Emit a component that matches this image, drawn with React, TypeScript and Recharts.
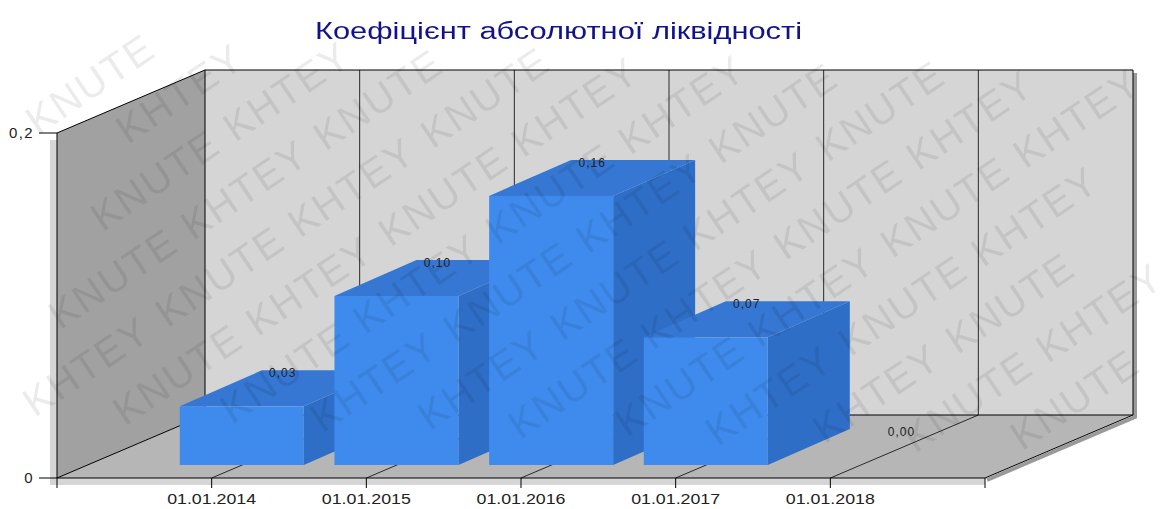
import React from "react";
import { Bar, BarChart, LabelList, XAxis, YAxis } from "recharts";

const categories = ["01.01.2014", "01.01.2015", "01.01.2016", "01.01.2017", "01.01.2018"];
const ratioValues = [0.034, 0.098, 0.156, 0.074, 0];
const yTicks = [0, 0.2];
const chartTitle = "Коефіцієнт абсолютної ліквідності";
const watermarkWords = ["KHTEY", "KNUTE"];

const data = categories.map((date, i) => ({ date, value: ratioValues[i] }));

const W = 1176;
const H = 509;
const PLOT = { left: 57, right: 985, top: 133, bottom: 478 };
const DEPTH = { x: 148, y: -63 };
const SLOTS = categories.length + 1;
const SLOT = (PLOT.right - PLOT.left) / SLOTS;
// bars sit a bit behind the front plane and are about half as deep as the box
const SHIFT = { x: 30, y: -13 };
const BAR_DEPTH = { x: 82, y: -36 };
const FONT = "'Liberation Sans', Arial, sans-serif";

const fmt = (v: number) => v.toFixed(2).replace(".", ",");

function Walls() {
  const { left, right, top, bottom } = PLOT;
  const bl = left + DEPTH.x;
  const br = right + DEPTH.x;
  const bt = top + DEPTH.y;
  const bb = bottom + DEPTH.y;
  const grid = Array.from({ length: SLOTS - 1 }, (_, i) => i + 1);
  return (
    <svg width={W} height={H} style={{ position: "absolute", left: 0, top: 0 }}>
      <rect x={left - 7} y={top + 7} width={7} height={bottom - top} fill="#d6d6d6" />
      <rect x={left - 7} y={bottom} width={right - left + 7} height={7} fill="#d6d6d6" />
      <polyline points={`${br + 2},${bt + 3} ${br + 2},${bb + 2} ${right + 2},${bottom + 2}`} fill="none" stroke="#9a9a9a" strokeWidth={4} />
      <polygon points={`${left},${top} ${bl},${bt} ${bl},${bb} ${left},${bottom}`} fill="#a1a1a1" />
      <rect x={bl} y={bt} width={br - bl} height={bb - bt} fill="#d5d5d5" />
      <polygon points={`${left},${bottom} ${bl},${bb} ${br},${bb} ${right},${bottom}`} fill="#b6b6b6" />
      {grid.map((k) => (
        <g key={k} stroke="#2a2a2a" strokeWidth={1}>
          <line x1={bl + k * SLOT} y1={bt} x2={bl + k * SLOT} y2={bb} />
          <line x1={left + k * SLOT} y1={bottom} x2={bl + k * SLOT} y2={bb} />
        </g>
      ))}
      <g stroke="#000" strokeWidth={1} fill="none">
        <polyline points={`${left},${top} ${bl},${bt} ${br},${bt} ${br},${bb} ${right},${bottom}`} />
        <line x1={bl} y1={bt} x2={bl} y2={bb} />
        <line x1={bl} y1={bb} x2={br} y2={bb} />
        <line x1={left} y1={bottom} x2={bl} y2={bb} />
        <line x1={left} y1={bottom} x2={left} y2={bottom + 10} />
        <line x1={right} y1={bottom} x2={right} y2={bottom + 10} />
      </g>
    </svg>
  );
}

function Box(props: any) {
  const { x, y, width, height } = props;
  if (!height || height <= 0) return null;
  const fx = x + SHIFT.x;
  const fy = y + SHIFT.y;
  const r = fx + width;
  const b = fy + height;
  return (
    <g>
      <polygon
        points={`${r},${fy} ${r + BAR_DEPTH.x},${fy + BAR_DEPTH.y} ${r + BAR_DEPTH.x},${b + BAR_DEPTH.y} ${r},${b}`}
        fill="#2f6ec7"
      />
      <polygon
        points={`${fx},${fy} ${fx + BAR_DEPTH.x},${fy + BAR_DEPTH.y} ${r + BAR_DEPTH.x},${fy + BAR_DEPTH.y} ${r},${fy}`}
        fill="#3577d3"
      />
      <rect x={fx} y={fy} width={width} height={height} fill="#3e8bed" />
    </g>
  );
}

function ValueLabel(props: any) {
  const vb = props.viewBox || props;
  const x = vb.x ?? props.x;
  const y = vb.y ?? props.y;
  const width = vb.width ?? props.width;
  const height = vb.height ?? props.height ?? 0;
  const topY = height < 0 ? y + height : y;
  return (
    <text
      x={x + SHIFT.x + width / 2 + BAR_DEPTH.x / 2}
      y={topY + SHIFT.y - 29}
      textAnchor="middle"
      fontSize={12}
      letterSpacing={1}
      fontFamily={FONT}
      fill="#222"
    >
      {fmt(Number(props.value))}
    </text>
  );
}

function DateTick(props: any) {
  const { x, y, payload } = props;
  return (
    <text x={x} y={y} dy="0.71em" textAnchor="middle" fontSize={15} fontFamily={FONT} fill="#222" textLength={89} lengthAdjust="spacingAndGlyphs">
      {payload.value}
    </text>
  );
}

// watermark words, kept only where the whole word fits inside the picture
function watermark() {
  const ang = (-34 * Math.PI) / 180;
  const c = Math.cos(ang);
  const s = Math.sin(ang);
  const cx = W / 2;
  const cy = H / 2;
  const wordW = 146;
  const out: { x: number; y: number; word: string }[] = [];
  for (let i = -12; i <= 12; i++) {
    for (let j = -8; j <= 8; j++) {
      const u = j * 160 + (i % 2 === 0 ? 0 : 90);
      const v = i * 58;
      const pts = [
        [u, v - 30],
        [u + wordW, v - 30],
        [u, v + 4],
        [u + wordW, v + 4],
      ].map(([a, b]) => [cx + a * c - b * s, cy + a * s + b * c]);
      if (pts.every(([px, py]) => px >= 1 && px <= W - 1 && py >= 1 && py <= H - 1)) {
        const word = watermarkWords[((j % 2) + 2) % 2];
        out.push({ x: cx + u * c - v * s, y: cy + u * s + v * c, word });
      }
    }
  }
  return out;
}

function Overlay() {
  const words = watermark();
  return (
    <svg width={W} height={H} style={{ position: "absolute", left: 0, top: 0, pointerEvents: "none" }}>
      <g opacity={0.08}>
        {words.map((w, i) => (
          <text key={i} transform={`translate(${w.x} ${w.y}) rotate(-34)`} fontSize={40} fontFamily={FONT} letterSpacing={2} fill="#000">
            {w.word}
          </text>
        ))}
      </g>
      <text x={315} y={39} fontSize={23} fontFamily={FONT} fill="#12128a" textLength={487} lengthAdjust="spacingAndGlyphs">
        {chartTitle}
      </text>
    </svg>
  );
}

export default function App() {
  const tickStyle = { fill: "#222", fontSize: 15, fontFamily: FONT, letterSpacing: 1.4 };
  return (
    <div style={{ position: "absolute", left: 0, top: 0, width: W, height: H, background: "#fff" }}>
      <Walls />
      <div style={{ position: "absolute", left: 0, top: 0 }}>
        <BarChart
          width={W}
          height={H}
          data={data}
          margin={{ top: PLOT.top, right: W - PLOT.right, bottom: H - PLOT.bottom - 30, left: PLOT.left - 50 }}
          barCategoryGap="10%"
        >
          <XAxis
            dataKey="date"
            height={30}
            interval={0}
            padding={{ left: SLOT / 2, right: SLOT / 2 }}
            tickSize={10}
            tickMargin={5}
            axisLine={{ stroke: "#000" }}
            tickLine={{ stroke: "#000" }}
            tick={<DateTick />}
          />
          <YAxis
            width={50}
            domain={[0, 0.2]}
            ticks={yTicks}
            tickFormatter={(v: number) => (v === 0 ? "0" : String(v).replace(".", ","))}
            tickSize={18}
            tickMargin={5}
            axisLine={{ stroke: "#000" }}
            tickLine={{ stroke: "#000" }}
            tick={tickStyle}
          />
          <Bar dataKey="value" shape={<Box />} isAnimationActive={false}>
            <LabelList dataKey="value" content={<ValueLabel />} />
          </Bar>
        </BarChart>
      </div>
      <Overlay />
    </div>
  );
}
